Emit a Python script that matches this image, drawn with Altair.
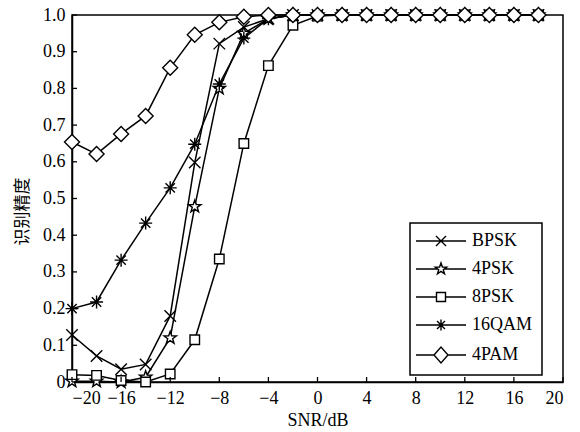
import math
import altair as alt
import pandas as pd

# ---------------- data ----------------
snr = [-20, -18, -16, -14, -12, -10, -8, -6, -4, -2, 0, 2, 4, 6, 8, 10, 12, 14, 16, 18]
mods = ["BPSK", "4PSK", "8PSK", "16QAM", "4PAM"]
bpsk = [0.128, 0.071, 0.035, 0.048, 0.180, 0.598, 0.922, 0.967, 0.990, 1.0, 1.0, 1.0, 1.0, 1.0, 1.0, 1.0, 1.0, 1.0, 1.0, 1.0]
psk4 = [0.002, 0.002, 0.000, 0.013, 0.120, 0.478, 0.800, 0.950, 0.990, 1.0, 1.0, 1.0, 1.0, 1.0, 1.0, 1.0, 1.0, 1.0, 1.0, 1.0]
psk8 = [0.020, 0.018, 0.004, 0.000, 0.022, 0.115, 0.335, 0.650, 0.862, 0.972, 0.997, 1.0, 1.0, 1.0, 1.0, 1.0, 1.0, 1.0, 1.0, 1.0]
qam16 = [0.200, 0.218, 0.332, 0.433, 0.529, 0.648, 0.812, 0.937, 0.990, 1.0, 1.0, 1.0, 1.0, 1.0, 1.0, 1.0, 1.0, 1.0, 1.0, 1.0]
pam4 = [0.654, 0.621, 0.676, 0.725, 0.856, 0.946, 0.980, 0.995, 1.0, 1.0, 1.0, 1.0, 1.0, 1.0, 1.0, 1.0, 1.0, 1.0, 1.0, 1.0]
series = [bpsk, psk4, psk8, qam16, pam4]
x_tick_values = [-20, -16, -12, -8, -4, 0, 4, 8, 12, 16, 20]
y_tick_values = [0.0, 0.1, 0.2, 0.3, 0.4, 0.5, 0.6, 0.7, 0.8, 0.9, 1.0]

rows = []
for m, vals in zip(mods, series):
    for s, v in zip(snr, vals):
        rows.append({"snr": s, "acc": v, "mod": m})
df = pd.DataFrame(rows)
xt = pd.DataFrame({"snr": x_tick_values})
yt = pd.DataFrame({"acc": y_tick_values})

# ---------------- marker shapes ----------------
def star_pts(R, r=None):
    r = r if r is not None else R * 0.4
    pts = []
    for k in range(10):
        a = math.radians(-90 + 36 * k)
        rad = R if k % 2 == 0 else r
        pts.append((rad * math.cos(a), rad * math.sin(a)))
    return "M" + "L".join(f"{x:.3f},{y:.3f}" for x, y in pts) + "Z"

def cross(a):
    return f"M{-a},{-a}L{a},{a}M{-a},{a}L{a},{-a}"

def square(a):
    return f"M{-a},{-a}L{a},{-a}L{a},{a}L{-a},{a}Z"

def asterisk(a):
    d = a * 0.72
    return f"M{-a},0L{a},0M0,{-a}L0,{a}M{-d},{-d}L{d},{d}M{-d},{d}L{d},{-d}"

def diamond(w, h):
    return f"M{-w},0L0,{-h}L{w},0L0,{h}Z"

plot_paths = [cross(1.15), star_pts(1.3), square(0.95), asterisk(1.3), diamond(1.5, 1.5)]
L = 5
legend_paths = [
    f"M{-L},0L{L},0" + cross(1.0),
    f"M{-L},0L-0.65,0M0.65,0L{L},0" + star_pts(1.2),
    f"M{-L},0L-0.9,0M0.9,0L{L},0" + square(0.9),
    f"M{-L},0L{L},0" + asterisk(1.1),
    f"M{-L},0L-1.4,0M1.4,0L{L},0" + diamond(1.4, 1.6),
]

FONT = "Liberation Serif"
xscale = alt.Scale(domain=[-20, 20], nice=False)
yscale = alt.Scale(domain=[0, 1], nice=False)
xaxis = alt.Axis(
    values=x_tick_values, ticks=False, grid=False, labelPadding=7,
    labelExpr="replace(format(datum.value, 'd'), '-', '\u2212')",
    title="SNR/dB", titleY=43, titleBaseline="alphabetic",
)
yaxis = alt.Axis(
    values=y_tick_values, ticks=False, grid=False, labelPadding=7,
    labelExpr="datum.value == 0 ? '0' : format(datum.value, '.1f')",
    title="识别精度", titleFont="Noto Sans CJK SC", titleFontSize=17,
    titleFontWeight="normal", titleAngle=-90, titleX=-50, titleY=196,
    titleBaseline="middle", titleAlign="center",
)
X = alt.X("snr:Q", scale=xscale, axis=xaxis)
Y = alt.Y("acc:Q", scale=yscale, axis=yaxis)

base = alt.Chart(df)
lines = base.mark_line(color="black", strokeWidth=1.5).encode(
    x=X, y=Y, detail="mod:N", order="snr:Q"
)
points = base.mark_point(
    filled=True, fill="white", stroke="black", strokeWidth=1.4, size=100, opacity=1
).encode(
    x=X, y=Y,
    shape=alt.Shape("mod:N", scale=alt.Scale(domain=mods, range=plot_paths), legend=None),
)
nbsp = "\u00a0" * 4
legend_layer = base.transform_filter("datum.acc > 5").mark_point(
    filled=False, stroke="black", color="black", strokeWidth=1.4, size=100, opacity=1
).encode(
    x=X, y=Y,
    shape=alt.Shape(
        "mod:N",
        scale=alt.Scale(domain=mods, range=legend_paths),
        legend=alt.Legend(
            title=None, orient="none", legendX=338, legendY=208,
            symbolSize=100, symbolStrokeWidth=1.4,
            symbolStrokeColor="black", symbolOpacity=1, symbolOffset=13, labelOffset=22,
            labelFont=FONT, labelFontSize=18, labelColor="black",
            labelExpr=f"datum.label + '{nbsp}'",
            padding=9, rowPadding=10, strokeColor="black", fillColor="white",
        ),
    ),
)
xticks = alt.Chart(xt).mark_rule(color="black", strokeWidth=1.3).encode(
    x=X, y=alt.value(367), y2=alt.value(362)
)
yticks = alt.Chart(yt).mark_rule(color="black", strokeWidth=1.3).encode(
    y=Y, x=alt.value(0), x2=alt.value(5)
)

chart = (
    alt.layer(lines, points, legend_layer, xticks, yticks)
    .resolve_scale(shape="independent")
    .properties(
        width=491, height=367,
        autosize=alt.AutoSizeParams(type="none"),
        padding={"left": 72, "top": 15, "right": 17, "bottom": 50},
        background="white",
    )
    .configure_view(stroke="black", strokeWidth=1.5)
    .configure_axis(
        domainColor="black", domainWidth=1.5,
        labelFont=FONT, labelFontSize=18, labelColor="black",
        titleFont=FONT, titleFontSize=18, titleColor="black", titleFontWeight="normal",
    )
    .configure_legend(strokeWidth=1.5)
)

chart.save("out.html", embed_options={"renderer": "svg", "actions": False})
